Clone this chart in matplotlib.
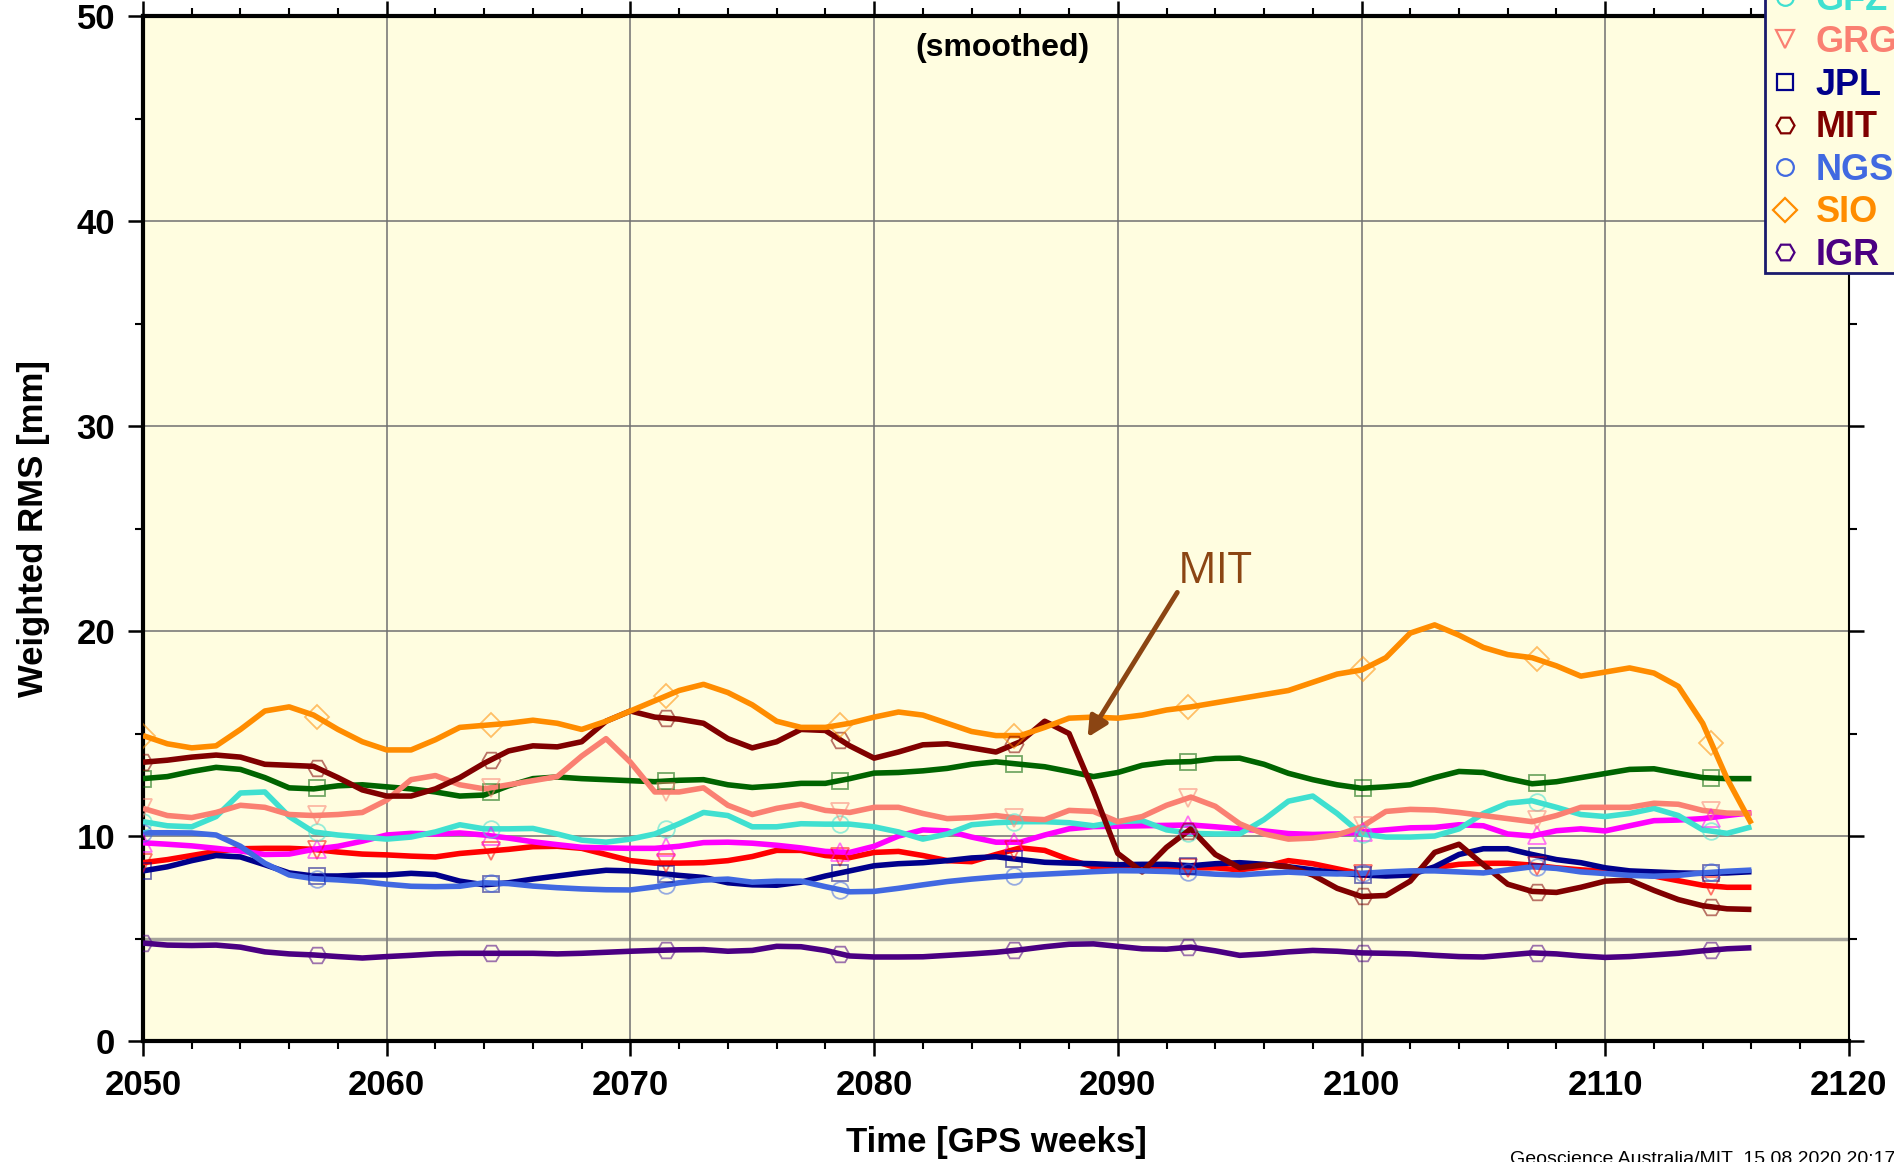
import numpy as np
import matplotlib
matplotlib.use("Agg")
import matplotlib.pyplot as plt
from matplotlib.lines import Line2D
from matplotlib.ticker import MultipleLocator

plt.rcParams["font.family"] = ["Liberation Sans", "DejaVu Sans"]

# GPS weeks (smoothed series, one value per week)
weeks = np.arange(2050, 2117)
mark_weeks = [2050, 2057.15, 2064.3, 2071.45, 2078.6, 2085.75, 2092.9, 2100.05, 2107.2, 2114.35]

cod = [8.7, 8.85, 9.05, 9.25, 9.38, 9.4, 9.4, 9.35, 9.22, 9.12,
       9.08, 9.02, 8.98, 9.15, 9.25, 9.35, 9.48, 9.5, 9.4, 9.1,
       8.8, 8.68, 8.68, 8.7, 8.8, 9.0, 9.3, 9.3, 9.05, 8.95,
       9.2, 9.25, 9.05, 8.8, 8.75, 9.1, 9.42, 9.3, 8.85, 8.5,
       8.4, 8.37, 8.37, 8.45, 8.45, 8.35, 8.5, 8.8, 8.65, 8.4,
       8.15, 8.1, 8.25, 8.45, 8.62, 8.67, 8.67, 8.58, 8.45, 8.35,
       8.28, 8.2, 8.05, 7.82, 7.6, 7.5, 7.5]
emr = [9.67, 9.6, 9.52, 9.4, 9.27, 9.1, 9.12, 9.35, 9.5, 9.75,
       10.05, 10.13, 10.1, 10.15, 10.05, 9.9, 9.72, 9.58, 9.45, 9.42,
       9.4, 9.4, 9.5, 9.68, 9.7, 9.65, 9.55, 9.42, 9.25, 9.2,
       9.5, 10.0, 10.3, 10.25, 9.95, 9.7, 9.7, 10.05, 10.35, 10.46,
       10.48, 10.5, 10.52, 10.54, 10.45, 10.35, 10.25, 10.12, 10.08, 10.1,
       10.2, 10.3, 10.4, 10.42, 10.55, 10.5, 10.1, 10.0, 10.26, 10.35,
       10.25, 10.5, 10.75, 10.78, 10.85, 11.0, 11.14]
esa = [12.8, 12.9, 13.15, 13.35, 13.25, 12.85, 12.35, 12.3, 12.45, 12.5,
       12.4, 12.3, 12.15, 11.95, 12.0, 12.45, 12.8, 12.88, 12.8, 12.75,
       12.7, 12.65, 12.72, 12.75, 12.5, 12.37, 12.45, 12.57, 12.57, 12.8,
       13.07, 13.1, 13.18, 13.3, 13.5, 13.62, 13.5, 13.38, 13.15, 12.9,
       13.1, 13.45, 13.6, 13.63, 13.78, 13.8, 13.5, 13.06, 12.75, 12.5,
       12.33, 12.4, 12.5, 12.85, 13.15, 13.1, 12.8, 12.55, 12.65, 12.85,
       13.05, 13.25, 13.28, 13.06, 12.85, 12.8, 12.8]
gfz = [10.7, 10.5, 10.45, 10.95, 12.1, 12.15, 10.95, 10.2, 10.05, 9.95,
       9.85, 9.95, 10.2, 10.55, 10.35, 10.35, 10.37, 10.1, 9.8, 9.7,
       9.85, 10.1, 10.6, 11.15, 11.0, 10.45, 10.45, 10.6, 10.58, 10.58,
       10.45, 10.2, 9.85, 10.1, 10.55, 10.65, 10.7, 10.7, 10.65, 10.5,
       10.7, 10.75, 10.3, 10.13, 10.1, 10.1, 10.8, 11.7, 11.95, 11.1,
       10.1, 9.95, 9.95, 10.0, 10.35, 11.1, 11.6, 11.72, 11.4, 11.05,
       10.95, 11.1, 11.35, 11.0, 10.3, 10.13, 10.45]
grg = [11.35, 11.0, 10.9, 11.15, 11.5, 11.4, 11.05, 11.0, 11.05, 11.15,
       11.75, 12.75, 12.95, 12.5, 12.3, 12.5, 12.7, 12.9, 13.9, 14.75,
       13.6, 12.15, 12.15, 12.35, 11.5, 11.05, 11.35, 11.55, 11.25, 11.15,
       11.4, 11.4, 11.1, 10.85, 10.9, 11.0, 10.85, 10.8, 11.25, 11.2,
       10.7, 10.95, 11.5, 11.9, 11.45, 10.6, 10.1, 9.85, 9.9, 10.05,
       10.45, 11.2, 11.3, 11.27, 11.15, 11.0, 10.85, 10.7, 11.0, 11.4,
       11.4, 11.4, 11.6, 11.55, 11.25, 11.12, 11.1]
jpl = [8.3, 8.5, 8.8, 9.05, 8.98, 8.6, 8.2, 8.05, 8.05, 8.1,
       8.1, 8.18, 8.12, 7.8, 7.62, 7.72, 7.9, 8.05, 8.2, 8.33,
       8.3, 8.2, 8.08, 7.98, 7.72, 7.62, 7.6, 7.75, 8.05, 8.3,
       8.55, 8.65, 8.7, 8.8, 8.93, 8.99, 8.85, 8.72, 8.68, 8.65,
       8.6, 8.62, 8.62, 8.55, 8.65, 8.7, 8.62, 8.5, 8.35, 8.2,
       8.1, 8.05, 8.1, 8.5, 9.1, 9.38, 9.38, 9.1, 8.85, 8.7,
       8.45, 8.3, 8.25, 8.2, 8.18, 8.2, 8.26]
mit = [13.6, 13.7, 13.85, 13.95, 13.85, 13.5, 13.45, 13.4, 12.85, 12.25,
       11.95, 11.95, 12.3, 12.85, 13.55, 14.15, 14.4, 14.35, 14.6, 15.6,
       16.1, 15.8, 15.7, 15.5, 14.75, 14.3, 14.6, 15.2, 15.15, 14.4,
       13.8, 14.1, 14.45, 14.5, 14.3, 14.1, 14.6, 15.6, 15.0, 12.2,
       9.15, 8.25, 9.45, 10.35, 9.1, 8.45, 8.6, 8.5, 8.1, 7.45,
       7.05, 7.1, 7.8, 9.2, 9.6, 8.6, 7.65, 7.3, 7.25, 7.5,
       7.8, 7.85, 7.35, 6.9, 6.6, 6.45, 6.42]
ngs = [10.16, 10.16, 10.15, 10.05, 9.5, 8.67, 8.1, 7.92, 7.86, 7.78,
       7.65, 7.55, 7.53, 7.55, 7.72, 7.68, 7.56, 7.48, 7.42, 7.38,
       7.37, 7.52, 7.72, 7.85, 7.9, 7.75, 7.8, 7.8, 7.53, 7.28,
       7.3, 7.45, 7.62, 7.78, 7.9, 8.0, 8.08, 8.14, 8.2, 8.26,
       8.31, 8.3, 8.27, 8.22, 8.14, 8.1, 8.18, 8.24, 8.18, 8.15,
       8.18, 8.25, 8.3, 8.3, 8.25, 8.2, 8.35, 8.5, 8.42, 8.25,
       8.17, 8.08, 8.04, 8.08, 8.2, 8.28, 8.34]
sio = [14.9, 14.5, 14.3, 14.4, 15.2, 16.1, 16.3, 15.9, 15.2, 14.6,
       14.2, 14.2, 14.7, 15.3, 15.4, 15.5, 15.65, 15.5, 15.2, 15.6,
       16.1, 16.6, 17.1, 17.4, 17.0, 16.4, 15.6, 15.3, 15.3, 15.5,
       15.8, 16.05, 15.9, 15.5, 15.1, 14.9, 14.9, 15.3, 15.75, 15.8,
       15.75, 15.9, 16.15, 16.3, 16.5, 16.7, 16.9, 17.1, 17.5, 17.9,
       18.1, 18.7, 19.9, 20.3, 19.8, 19.2, 18.85, 18.7, 18.3, 17.8,
       18.0, 18.2, 17.95, 17.3, 15.5, 12.8, 10.6]
igr = [4.78, 4.68, 4.66, 4.68, 4.58, 4.35, 4.25, 4.2, 4.12, 4.05,
       4.12, 4.18, 4.25, 4.28, 4.28, 4.28, 4.28, 4.25, 4.28, 4.33,
       4.38, 4.42, 4.45, 4.46, 4.38, 4.42, 4.62, 4.6, 4.42, 4.15,
       4.1, 4.1, 4.11, 4.18, 4.25, 4.33, 4.45, 4.6, 4.72, 4.74,
       4.62, 4.5, 4.48, 4.58, 4.4, 4.18, 4.25, 4.35, 4.42, 4.38,
       4.3, 4.28, 4.25, 4.18, 4.12, 4.1, 4.2, 4.3, 4.25, 4.15,
       4.08, 4.12, 4.2, 4.28, 4.4, 4.5, 4.55]

names = ["COD", "EMR", "ESA", "GFZ", "GRG", "JPL", "MIT", "NGS", "SIO", "IGR"]
series = [cod, emr, esa, gfz, grg, jpl, mit, ngs, sio, igr]
colors = ["#ff0000", "#ff00ff", "#006400", "#40e0d0", "#fa8072",
          "#00008b", "#800000", "#4169e1", "#ff8c00", "#4b0082"]
markers = ["v", "^", "s", "o", "v", "s", "H", "o", "D", "H"]
msizes = [13, 13, 11, 12, 13, 11, 13, 12, 12, 13]

bg = "#fffde0"
fig = plt.figure(figsize=(18.94, 11.62), dpi=100)
ax = fig.add_axes([0.0755, 0.1041, 0.9007, 0.8821])
ax.set_facecolor(bg)

for vals, c, m, ms in zip(series, colors, markers, msizes):
    ax.plot(weeks, vals, color=c, lw=4, zorder=3,
            solid_capstyle="butt", solid_joinstyle="round")
    ax.plot(mark_weeks, np.interp(mark_weeks, weeks, vals), ls="none",
            marker=m, ms=ms, mfc="none", mec=c, mew=1.3, alpha=0.55, zorder=4)

ax.set_xlim(2050, 2120)
ax.set_ylim(0, 50)
ax.xaxis.set_major_locator(MultipleLocator(10))
ax.xaxis.set_minor_locator(MultipleLocator(2))
ax.yaxis.set_major_locator(MultipleLocator(10))
ax.yaxis.set_minor_locator(MultipleLocator(5))

# grid lines
for x in range(2060, 2120, 10):
    ax.axvline(x, color="#707070", lw=1.1, zorder=1)
for y in [10, 20, 30, 40]:
    ax.axhline(y, color="#707070", lw=1.1, zorder=1)
ax.axhline(5, color="#808080", lw=2.5, alpha=0.7, zorder=1)

ax.tick_params(which="major", direction="out", length=11, width=1.8,
               top=True, right=True, labelsize=25, pad=9)
ax.tick_params(which="minor", direction="out", length=6, width=1.5,
               top=True, right=True)
for lab in ax.get_xticklabels() + ax.get_yticklabels():
    lab.set_fontweight("bold")

for side in ["left", "bottom", "top"]:
    ax.spines[side].set_linewidth(3)
ax.spines["right"].set_linewidth(1.5)

ax.set_xlabel("Time [GPS weeks]", fontsize=25, fontweight="bold")
ax.set_ylabel("Weighted RMS [mm]", fontsize=25, fontweight="bold")
ax.xaxis.set_label_coords(0.5, -0.083)
ax.yaxis.set_label_coords(-0.064, 0.5)
ax.yaxis.label.set_va("center")

ax.text(0.504, 0.969, "(smoothed)", transform=ax.transAxes, ha="center", va="center",
        fontsize=23, fontweight="bold")

# MIT annotation
ax.text(2094.0, 22.9, "MIT", color="#8b4513", fontsize=31, ha="center", va="center",
        family=["Open Sans", "DejaVu Sans"])
ax.annotate("", xy=(2088.7, 14.7), xytext=(2092.5, 22.0),
            arrowprops=dict(arrowstyle="-|>", color="#8b4513", lw=3.5, mutation_scale=30),
            zorder=6)

# legend (runs off the top and right of the figure)
handles = [Line2D([], [], ls="none", marker=m, ms=ms, mfc="none", mec=c, mew=1.6)
           for c, m, ms in zip(colors, markers, msizes)]
leg = fig.legend(handles, names, loc="lower left", bbox_to_anchor=(1765 / 1894, 1 - 273 / 1162),
                 bbox_transform=fig.transFigure, borderaxespad=0, borderpad=0.0,
                 labelspacing=0.21, handlelength=1.1, handletextpad=0.3,
                 fancybox=False, framealpha=1, facecolor=bg, edgecolor="#1a1a6e",
                 prop={"family": "Liberation Sans", "weight": "bold", "size": 26})
leg.get_frame().set_linewidth(2)
for t, c in zip(leg.get_texts(), colors):
    t.set_color(c)

fig.text(1510 / 1894, 1 - 1151 / 1162, "Geoscience Australia/MIT  15.08.2020 20:17",
         fontsize=14, va="top", ha="left")

fig.savefig("out.png", dpi=100, facecolor="white")
